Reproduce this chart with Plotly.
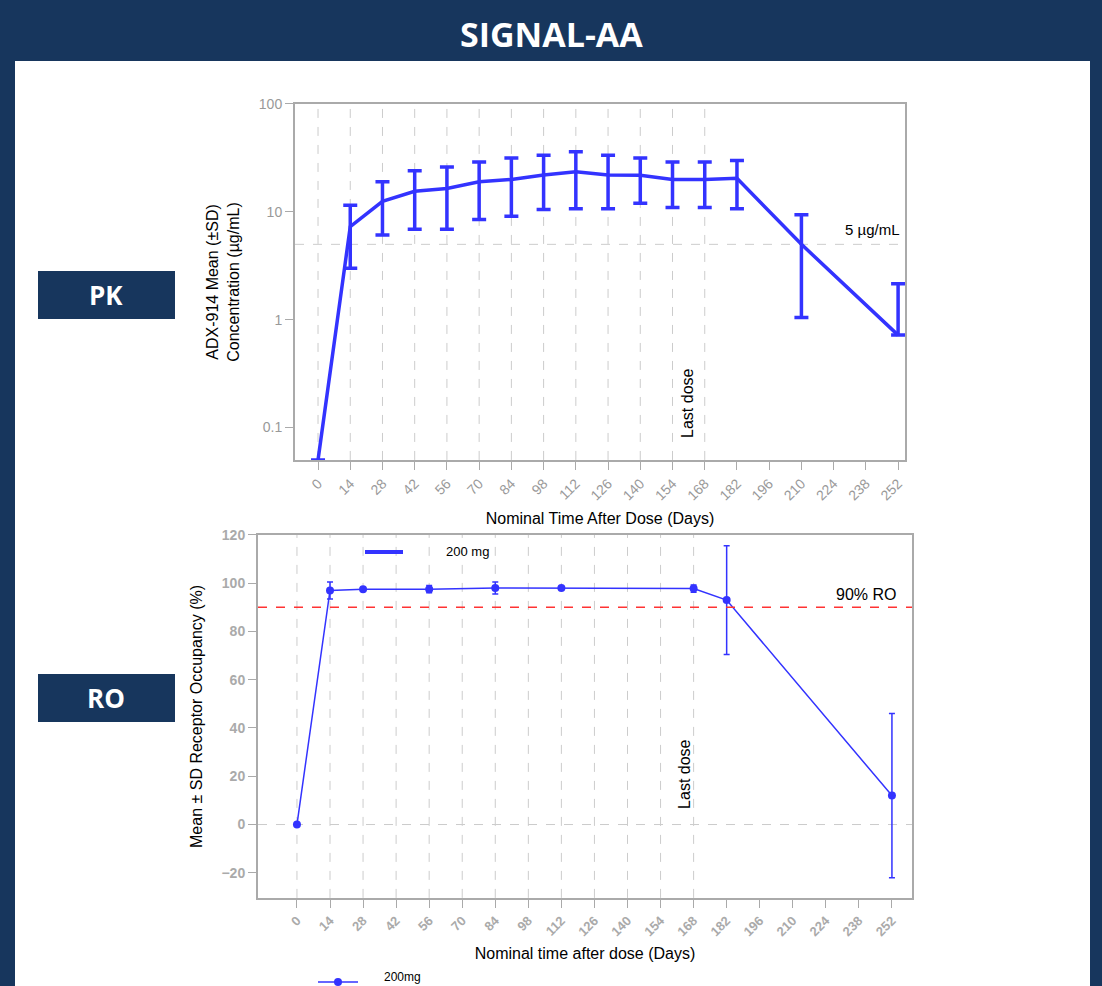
import plotly.graph_objects as go

W, H = 1102, 986
NAVY = "#17365d"
BLUE = "#3333ff"

ticks = [0, 14, 28, 42, 56, 70, 84, 98, 112, 126, 140, 154, 168, 182, 196, 210, 224, 238, 252]

pk_day = [0, 14, 28, 42, 56, 70, 84, 98, 112, 126, 140, 154, 168, 182, 210, 252]
pk_mean = [0.05, 7.3, 12.5, 15.5, 16.5, 19, 20, 22, 23.5, 22, 21.8, 20, 20, 20.5, 5.0, 0.72]
pk_hi = [None, 11.5, 19, 24, 26, 29, 31.5, 33.5, 36, 33.5, 31.5, 29, 29, 30, 9.4, 2.15]
pk_lo = [None, 3.0, 6.1, 6.9, 6.9, 8.5, 9.1, 10.5, 10.7, 10.7, 12, 11, 11, 10.7, 1.05, None]

ro_day = [0, 14, 28, 56, 84, 112, 168, 182, 252]
ro_mean = [0, 97, 97.5, 97.5, 98, 98, 97.8, 93, 12]
ro_sd = [0, 3.5, 0.5, 1.5, 2.5, 0.5, 1.5, 22.5, 34]

def px_x(x):
    return x / W
def px_y(y):
    y = (y - 7) / 0.992
    return 1 - y / H

fig = go.Figure()

arr_p = [(h - m) if h is not None else 0 for h, m in zip(pk_hi, pk_mean)]
arr_m = [(m - l) if l is not None else 0 for l, m in zip(pk_lo, pk_mean)]
fig.add_trace(go.Scatter(x=pk_day, y=pk_mean, mode="lines", line=dict(color=BLUE, width=3.5),
                         error_y=dict(type="data", array=arr_p, arrayminus=arr_m, color=BLUE, thickness=3.5, width=7),
                         xaxis="x", yaxis="y", showlegend=False, cliponaxis=True))
fig.add_trace(go.Scatter(x=ro_day, y=ro_mean, mode="lines+markers", line=dict(color=BLUE, width=1.5),
                         marker=dict(size=8, color=BLUE),
                         error_y=dict(type="data", array=ro_sd, color=BLUE, thickness=1.5, width=3),
                         xaxis="x2", yaxis="y2", showlegend=False))

F = "Liberation Sans"
grid = dict(showgrid=False, zeroline=False, showline=True, linecolor="#aaaaaa", linewidth=2, mirror=True,
            ticks="outside", tickcolor="#aaaaaa", ticklen=8)
tf = dict(family=F, size=14, color="#999999")
ttl = dict(family=F, size=16, color="black")
fig.update_layout(
    width=W, height=H, margin=dict(l=0, r=0, t=0, b=0),
    paper_bgcolor=NAVY, plot_bgcolor="white",
    xaxis=dict(domain=[px_x(295), px_x(905)], range=[-10, 255], tickvals=ticks, tickangle=-45, tickfont=tf,
               title=dict(text="Nominal Time After Dose (Days)", font=ttl, standoff=10),
               anchor="y", **grid),
    yaxis=dict(domain=[px_y(459), px_y(103)], type="log", range=[-1.3, 2], tickvals=[0.1, 1, 10, 100],
               ticktext=["0.1", "1", "10", "100"], tickfont=tf,
               title=dict(text="ADX-914 Mean (±SD)<br>Concentration (µg/mL)", font=ttl),
               anchor="x", **grid),
    xaxis2=dict(domain=[px_x(258), px_x(912)], range=[-16.5, 260.5], tickvals=ticks, tickangle=-45,
                tickfont=dict(family=F, size=13, color="#aaaaaa", weight="bold"),
                title=dict(text="Nominal time after dose (Days)", font=ttl, standoff=10),
                anchor="y2", **grid),
    yaxis2=dict(domain=[px_y(897), px_y(534)], range=[-30.4, 120], tickvals=[-20, 0, 20, 40, 60, 80, 100, 120],
                tickfont=dict(family=F, size=14, color="#aaaaaa", weight="bold"),
                title=dict(text="Mean ± SD Receptor Occupancy (%)", font=ttl),
                anchor="x2", **grid),
)

shapes = []
shapes.append(dict(type="rect", xref="paper", yref="paper", x0=px_x(15), x1=px_x(1090), y0=-0.05, y1=px_y(60),
                   fillcolor="white", line=dict(width=0), layer="below"))
for y0, y1 in [(270, 318), (673, 721)]:
    shapes.append(dict(type="rect", xref="paper", yref="paper", x0=px_x(38), x1=px_x(175), y0=px_y(y1), y1=px_y(y0),
                       fillcolor=NAVY, line=dict(width=0)))
dash = dict(color="#cccccc", width=1, dash="dash")
for t in ticks[:13]:
    shapes.append(dict(type="line", xref="x", yref="y domain", x0=t, x1=t, y0=0, y1=1, line=dash, layer="below"))
    shapes.append(dict(type="line", xref="x2", yref="y2 domain", x0=t, x1=t, y0=0, y1=1, line=dash, layer="below"))
shapes.append(dict(type="line", xref="x domain", yref="y", x0=0, x1=1, y0=5, y1=5, line=dash, layer="below"))
shapes.append(dict(type="line", xref="x2 domain", yref="y2", x0=0, x1=1, y0=0, y1=0, line=dash, layer="below"))
shapes.append(dict(type="line", xref="x2 domain", yref="y2", x0=0, x1=1, y0=90, y1=90,
                   line=dict(color="#ff3333", width=1.5, dash="dash")))
shapes.append(dict(type="line", xref="paper", yref="paper", x0=px_x(365), x1=px_x(403), y0=px_y(551), y1=px_y(551),
                   line=dict(color=BLUE, width=4)))
shapes.append(dict(type="line", xref="paper", yref="paper", x0=px_x(318), x1=px_x(358), y0=px_y(981), y1=px_y(981),
                   line=dict(color=BLUE, width=1.5)))
shapes.append(dict(type="circle", xref="paper", yref="paper", x0=px_x(334), x1=px_x(342), y0=px_y(985), y1=px_y(977),
                   fillcolor=BLUE, line=dict(width=0)))
fig.update_layout(shapes=shapes)

ann = [
    dict(text="<b>SIGNAL-AA</b>", x=px_x(551), y=px_y(33), font=dict(family="Open Sans", size=34, color="white")),
    dict(text="<b>PK</b>", x=px_x(106), y=px_y(294), font=dict(family="Open Sans", size=26, color="white")),
    dict(text="<b>RO</b>", x=px_x(106), y=px_y(697), font=dict(family="Open Sans", size=26, color="white")),
    dict(text="5 µg/mL", x=px_x(872), y=px_y(229), font=dict(family=F, size=15, color="black")),
    dict(text="Last dose", x=px_x(688), y=px_y(403), textangle=-90, font=dict(family=F, size=16, color="black")),
    dict(text="90% RO", x=px_x(866), y=px_y(594), font=dict(family=F, size=16, color="black")),
    dict(text="Last dose", x=px_x(685), y=px_y(774), textangle=-90, font=dict(family=F, size=16, color="black")),
    dict(text="200 mg", x=px_x(467), y=px_y(551), font=dict(family=F, size=13, color="black")),
    dict(text="200mg", x=px_x(402), y=px_y(976), font=dict(family=F, size=12, color="black")),
]
for a in ann:
    a.update(xref="paper", yref="paper", showarrow=False, xanchor="center", yanchor="middle")
fig.update_layout(annotations=ann)

fig.write_html("out.html", config={"displayModeBar": False},
               post_script="document.body.style.margin='0';document.body.style.overflow='hidden';")
